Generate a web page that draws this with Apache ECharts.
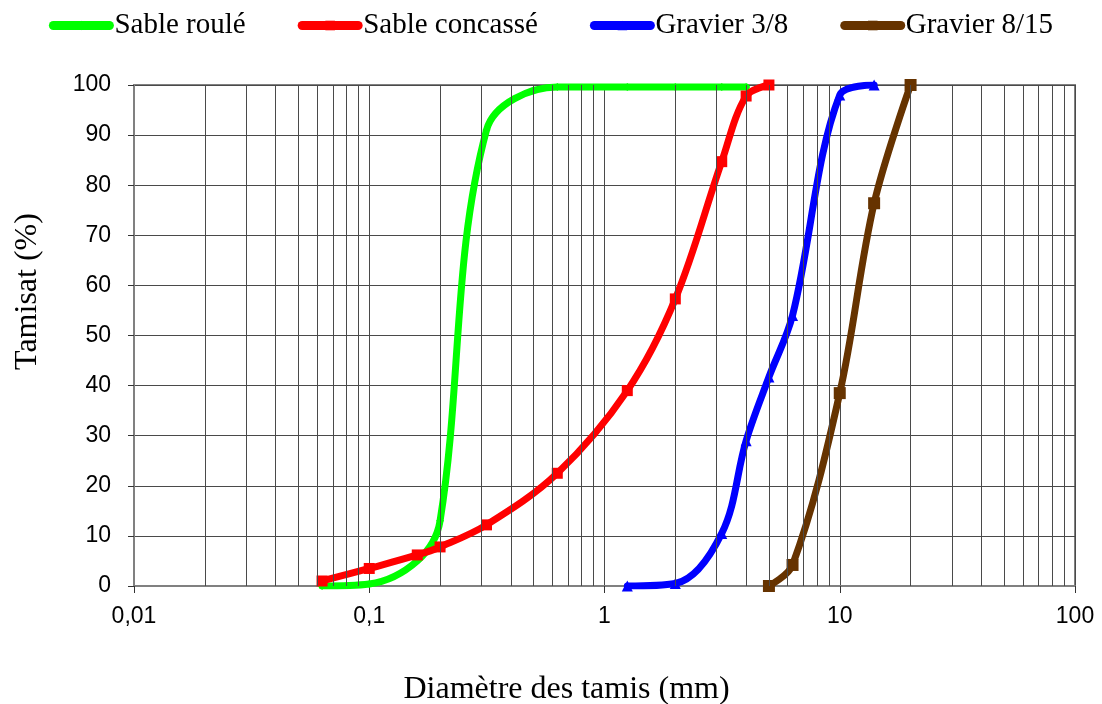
<!DOCTYPE html>
<html>
<head>
<meta charset="utf-8">
<script src="https://cdn.jsdelivr.net/npm/echarts@6/dist/echarts.min.js"></script>
<style>
  html, body { margin: 0; padding: 0; background: #fff; }
  #chart { width: 1102px; height: 704px; }
</style>
</head>
<body>
<div id="chart"></div>
<script>
// Sieve sizes (mm) and passing (%) per material
const sableRouleX = [0.063, 0.1, 0.16, 0.2, 0.315, 0.63, 1.25, 2, 3.15, 4];
const sableRouleY = [0, 0.4, 5, 13, 91, 99.6, 99.6, 99.6, 99.6, 99.6];

const sableConcasseX = [0.063, 0.1, 0.16, 0.2, 0.315, 0.63, 1.25, 2, 3.15, 4, 5];
const sableConcasseY = [1, 3.5, 6.2, 7.8, 12.2, 22.5, 39, 57.3, 84.7, 97.8, 100];

const gravier38X = [1.25, 2, 3.15, 4, 5, 6.3, 10, 14];
const gravier38Y = [0, 0.5, 10.5, 29, 41.7, 54, 98, 100];

const gravier815X = [5, 6.3, 10, 14, 20];
const gravier815Y = [0, 4.2, 38.5, 76.4, 100];

// minor vertical grid lines (2..9 within each decade)
const minorGrid = [
  0.02, 0.03, 0.04, 0.05, 0.06, 0.07, 0.08, 0.09,
  0.2, 0.3, 0.4, 0.5, 0.6, 0.7, 0.8, 0.9,
  2, 3, 4, 5, 6, 7, 8, 9,
  20, 30, 40, 50, 60, 70, 80, 90
];

const pairs = (xs, ys) => xs.map((x, i) => [x, ys[i]]);

const chart = echarts.init(document.getElementById('chart'));

const serif = '"Liberation Serif", "Times New Roman", serif';
const sans = '"Liberation Sans", Arial, sans-serif';
const gridColor = '#4a4a4a';

const mkSeries = (name, color, symbol, size, xs, ys) => ({
  name: name,
  type: 'line',
  smooth: 0.35,
  symbol: symbol,
  symbolSize: size,
  showAllSymbol: true,
  itemStyle: { color: color },
  lineStyle: { color: color, width: 7, cap: 'round' },
  data: pairs(xs, ys),
  z: 3
});

const option = {
  backgroundColor: '#fff',
  animation: false,
  legend: {
    top: 6,
    left: 'center',
    itemGap: 52,
    itemWidth: 56,
    itemHeight: 12,
    lineStyle: { width: 9, cap: 'round' },
    textStyle: { fontFamily: serif, fontSize: 29, color: '#000' },
    data: ['Sable roulé', 'Sable concassé', 'Gravier 3/8', 'Gravier 8/15']
  },
  grid: {
    left: 134, right: 27, top: 85, bottom: 118,
    outerBoundsMode: 'none',
    containLabel: false,
    show: true,
    borderColor: '#808080',
    borderWidth: 2
  },
  xAxis: {
    type: 'log',
    logBase: 10,
    min: 0.01,
    max: 100,
    name: 'Diamètre des tamis (mm)',
    nameLocation: 'middle',
    nameGap: 88,
    nameTextStyle: { fontFamily: serif, fontSize: 32, color: '#000', padding: [0, 76, 0, 0] },
    axisLine: { lineStyle: { color: '#808080', width: 2 } },
    axisTick: { show: true, inside: false, length: 7, lineStyle: { color: '#333' } },
    axisLabel: {
      fontFamily: sans, fontSize: 23, color: '#000', margin: 19,
      formatter: v => String(Number(v.toPrecision(3))).replace('.', ',')
    },
    splitLine: { show: true, lineStyle: { color: gridColor, width: 1 } }
  },
  yAxis: {
    type: 'value',
    min: 0,
    max: 100,
    interval: 10,
    name: 'Tamisat (%)',
    nameLocation: 'middle',
    nameGap: 90,
    nameTextStyle: { fontFamily: serif, fontSize: 32, color: '#000', padding: [0, 0, 0, 88] },
    axisLine: { show: true, lineStyle: { color: '#808080', width: 2 } },
    axisTick: { show: true, inside: false, length: 6, lineStyle: { color: '#333' } },
    axisLabel: { fontFamily: sans, fontSize: 23, color: '#000', margin: 23 },
    splitLine: { show: true, lineStyle: { color: gridColor, width: 1 } }
  },
  series: [
    {
      name: 'minor',
      type: 'line',
      data: [],
      silent: true,
      z: 1,
      markLine: {
        silent: true,
        symbol: 'none',
        label: { show: false },
        lineStyle: { color: gridColor, width: 1, type: 'solid' },
        data: minorGrid.map(v => ({ xAxis: v }))
      }
    },
    mkSeries('Sable roulé', '#00ff00', 'diamond', 8, sableRouleX, sableRouleY),
    mkSeries('Sable concassé', '#ff0000', 'rect', 11, sableConcasseX, sableConcasseY),
    mkSeries('Gravier 3/8', '#0000ff', 'triangle', 11, gravier38X, gravier38Y),
    mkSeries('Gravier 8/15', '#663300', 'rect', 12, gravier815X, gravier815Y)
  ]
};

chart.setOption(option);
</script>
</body>
</html>
